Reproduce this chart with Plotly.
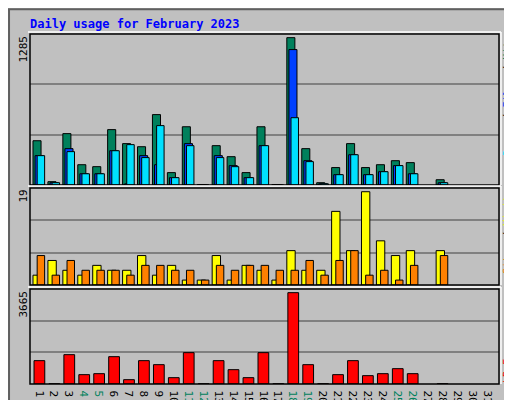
import plotly.graph_objects as go

days = list(range(1, 32))
hits  = [386,29,448,177,160,483,361,334,614,108,508,3,343,247,108,508,3,1285,317,20,152,361,152,177,212,195,None,46,None,None,None]
files = [256,20,317,98,98,299,10,256,177,64,361,0,256,169,64,343,0,1181,212,11,90,264,90,116,169,98,None,20,None,None,None]
pages = [256,20,291,98,98,299,352,239,518,64,343,0,239,160,64,343,0,587,204,11,90,264,90,116,169,98,None,20,None,None,None]
visits = [2,5,3,2,4,3,3,6,2,4,1,1,6,1,4,3,1,7,3,3,15,7,19,9,6,7,None,7,None,None,None]
sites  = [6,2,5,3,3,3,2,4,4,3,3,1,4,3,4,4,3,3,5,2,5,7,2,3,1,4,None,6,None,None,None]
kbytes = [937,10,1177,375,415,1097,174,937,776,254,1258,10,937,575,254,1258,10,3665,776,10,375,937,335,415,615,415,None,10,None,None,None]
weekend = {4,5,11,12,18,19,25,26}
ticktext = [f"<span style='color:#00805C'>{d}</span>" if d in weekend else str(d) for d in days]

FONT = "DejaVu Sans Mono"
fig = go.Figure()
ln = dict(color="black", width=1)
def bar(y, color, off, w, ax):
    fig.add_trace(go.Bar(x=days, y=y, offset=off, width=w, marker=dict(color=color, line=ln),
                         xaxis="x", yaxis=ax, showlegend=False))
bar(hits, "#00805C", -0.54, 0.54, "y")
bar(files, "#0040FF", -0.40, 0.54, "y")
bar(pages, "#00E0FF", -0.26, 0.5, "y")
bar(visits, "#FFFF00", -0.54, 0.56, "y2")
bar(sites, "#FF8000", -0.26, 0.5, "y2")
bar(kbytes, "#FF0000", -0.47, 0.72, "y3")

def yax(dom, top):
    return dict(domain=dom, range=[0, top], tickvals=[top/3, 2*top/3], showticklabels=False,
                showgrid=True, gridcolor="#808080", gridwidth=2, zeroline=False, anchor="x", fixedrange=True)

fig.update_layout(
    width=512, height=400, margin=dict(l=0, r=0, t=0, b=0),
    paper_bgcolor="#C0C0C0", plot_bgcolor="#C0C0C0", barmode="overlay",
    xaxis=dict(domain=[22/512, 491/512], range=[0.26, 31.67], tickvals=days, ticktext=ticktext, anchor="y3",
               tickfont=dict(family=FONT, size=11, color="black"), ticks="", showgrid=False, zeroline=False, ticklen=0),
    yaxis=yax([1-177/400, 1-26/400], 1317),
    yaxis2=yax([1-277/400, 1-180/400], 19.76),
    yaxis3=yax([1-376/400, 1-281/400], 3812),
)
shapes = [dict(type="rect", xref="paper", yref="paper", x0=0.002, x1=0.998, y0=0.003, y1=0.997,
               line=dict(color="#606060", width=2))]
for y0, y1 in [(26, 177), (180, 277), (281, 376)]:
    shapes.append(dict(type="rect", xref="paper", yref="paper", x0=22/512, x1=491/512,
                       y0=1-y1/400, y1=1-y0/400, line=dict(color="black", width=1.5)))
    shapes.append(dict(type="line", xref="paper", yref="paper", x0=493/512, x1=493/512,
                       y0=1-y1/400, y1=1-(y0-2)/400, line=dict(color="white", width=1.5)))
    shapes.append(dict(type="line", xref="paper", yref="paper", x0=20/512, x1=493/512,
                       y0=1-(y0-2)/400, y1=1-(y0-2)/400, line=dict(color="white", width=1.5)))
fig.update_layout(shapes=shapes)

anns = [dict(text="<b>Daily usage for February 2023</b>", x=20/512, y=1-16/400, xanchor="left", yanchor="middle",
             font=dict(family=FONT, size=12, color="#0000FF"))]
for txt, ytop in [("1285", 27), ("19", 181), ("3665", 282)]:
    anns.append(dict(text=txt, x=15/512, y=1-ytop/400, xanchor="center", yanchor="top", textangle=-90,
                     font=dict(family=FONT, size=11, color="black"), borderpad=0))
rl = ["<span style='color:#00E0FF'>Pages</span><span style='color:#000'> / </span><span style='color:#0040FF'>Files</span><span style='color:#000'> / </span><span style='color:#00805C'>Hits</span>",
      "<span style='color:#FF8000'>Sites</span><span style='color:#000'> / </span><span style='color:#FFFF00'>Visits</span>",
      "<span style='color:#FF0000'>kB F</span>"]
rf = dict(family=FONT, size=10)
anns.append(dict(text=rl[0], x=499/512, y=1-27/400, xanchor="center", yanchor="top", textangle=-90, font=rf, borderpad=0))
anns.append(dict(text=rl[1], x=499/512, y=1-181/400, xanchor="center", yanchor="top", textangle=-90, font=rf, borderpad=0))
anns.append(dict(text=rl[2], x=499/512, y=1-376/400, xanchor="center", yanchor="bottom", textangle=-90, font=rf, borderpad=0))
for a in anns:
    a.update(xref="paper", yref="paper", showarrow=False)
fig.update_layout(annotations=anns)
fig.write_html("out.html")
